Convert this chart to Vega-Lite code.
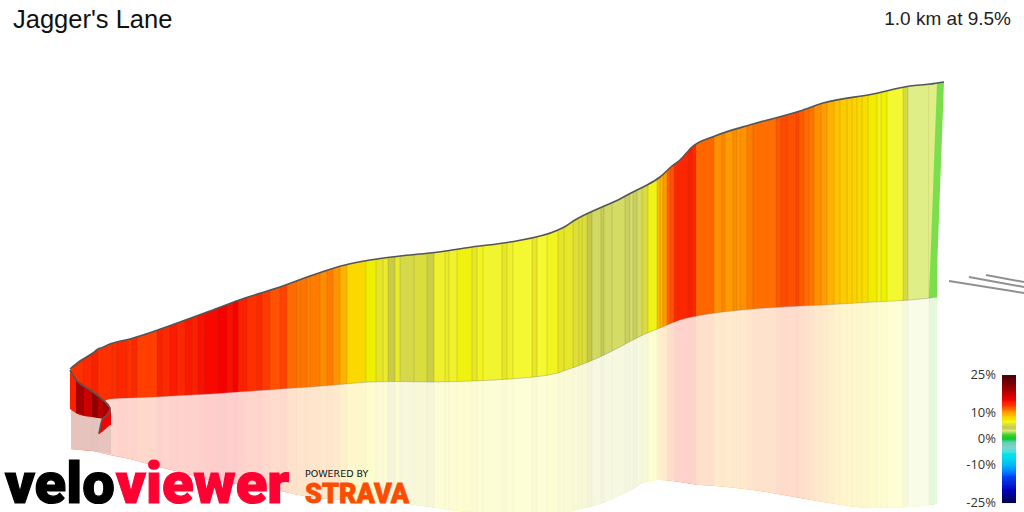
{
  "$schema": "https://vega.github.io/schema/vega-lite/v6.json",
  "description": "Jagger's Lane climb profile",
  "width": 1024,
  "height": 512,
  "padding": 0,
  "autosize": {"type": "none"},
  "background": "white",
  "config": {"view": {"stroke": null}, "font": "Liberation Sans"},
  "datasets": {
    "bands": [
      {"from":71,"to":83.5,"grade":13},{"from":83,"to":92.5,"grade":13.5},{"from":92,"to":98.5,"grade":14},{"from":98,"to":112.5,"grade":13},
      {"from":112,"to":117.5,"grade":13.2},{"from":117,"to":127.5,"grade":13.6},{"from":127,"to":132.5,"grade":13},{"from":132,"to":137.5,"grade":13.5},
      {"from":137,"to":157.5,"grade":12.7},{"from":157,"to":162.5,"grade":14},{"from":162,"to":170.5,"grade":13.5},{"from":170,"to":177.5,"grade":14.2},
      {"from":177,"to":185.5,"grade":13.6},{"from":185,"to":192.5,"grade":14.3},{"from":192,"to":198.5,"grade":14},{"from":198,"to":205.5,"grade":14.6},
      {"from":205,"to":218.5,"grade":14.8},{"from":218,"to":227.5,"grade":15},{"from":227,"to":233.5,"grade":14.6},{"from":233,"to":238.5,"grade":15},
      {"from":238,"to":247.5,"grade":14},{"from":247,"to":257.5,"grade":13},{"from":257,"to":262.5,"grade":13.5},{"from":262,"to":270.5,"grade":12.8},
      {"from":270,"to":280.5,"grade":12.2},{"from":280,"to":287.5,"grade":12.6},{"from":287,"to":297.5,"grade":11.4},{"from":297,"to":300.5,"grade":11},
      {"from":300,"to":307.5,"grade":11.2},{"from":307,"to":310.5,"grade":10.8},{"from":310,"to":320.5,"grade":11},{"from":320,"to":327.5,"grade":10.6},
      {"from":327,"to":333.5,"grade":11},{"from":333,"to":340.5,"grade":10.4},{"from":340,"to":347.5,"grade":9.4},{"from":347,"to":366.5,"grade":8},
      {"from":366,"to":376.5,"grade":7},{"from":376,"to":383.5,"grade":5.8},{"from":383,"to":388.5,"grade":6},{"from":388,"to":395.5,"grade":4.5},
      {"from":395,"to":400.5,"grade":6},{"from":400,"to":414.5,"grade":5},{"from":414,"to":427.5,"grade":5.3},{"from":427,"to":434.5,"grade":4.6},
      {"from":434,"to":445.5,"grade":6.2},{"from":445,"to":449.5,"grade":6},{"from":449,"to":457.5,"grade":6.2},{"from":457,"to":472.5,"grade":6.9},
      {"from":472,"to":477.5,"grade":5.9},{"from":477,"to":483.5,"grade":6.7},{"from":483,"to":502.5,"grade":6.3},{"from":502,"to":507.5,"grade":5.9},
      {"from":507,"to":513.5,"grade":6.2},{"from":513,"to":532.5,"grade":6.4},{"from":532,"to":537.5,"grade":5.9},{"from":537,"to":547.5,"grade":6.4},
      {"from":547,"to":558.5,"grade":6.7},{"from":558,"to":564.5,"grade":5.8},{"from":564,"to":573.5,"grade":5.9},{"from":573,"to":579.5,"grade":5.4},
      {"from":579,"to":582.5,"grade":5.6},{"from":582,"to":587.5,"grade":5.3},{"from":587,"to":592.5,"grade":4.3},{"from":592,"to":601.5,"grade":3.5},
      {"from":601,"to":604.5,"grade":4},{"from":604,"to":612.5,"grade":3.5},{"from":612,"to":625.5,"grade":3.4},{"from":625,"to":630.5,"grade":3.8},
      {"from":630,"to":633.5,"grade":3.3},{"from":633,"to":637.5,"grade":3.8},{"from":637,"to":642.5,"grade":3.4},{"from":642,"to":648.5,"grade":5.2},
      {"from":648,"to":657.5,"grade":6.8},{"from":657,"to":660.5,"grade":9},{"from":660,"to":663.5,"grade":9.5},{"from":663,"to":667.5,"grade":10.3},
      {"from":667,"to":670.5,"grade":11.7},{"from":670,"to":674.5,"grade":12.2},{"from":674,"to":678.5,"grade":13.4},{"from":678,"to":688.5,"grade":13.6},
      {"from":688,"to":692.5,"grade":14},{"from":692,"to":696.5,"grade":13.5},{"from":696,"to":714.5,"grade":11.5},{"from":714,"to":722.5,"grade":10.5},
      {"from":722,"to":725.5,"grade":10.7},{"from":725,"to":733.5,"grade":10.2},{"from":733,"to":737.5,"grade":10.6},{"from":737,"to":740.5,"grade":10.1},
      {"from":740,"to":747.5,"grade":10.5},{"from":747,"to":753.5,"grade":11},{"from":753,"to":776.5,"grade":11.3},{"from":776,"to":781.5,"grade":12},
      {"from":781,"to":787.5,"grade":12.4},{"from":787,"to":796.5,"grade":12.2},{"from":796,"to":799.5,"grade":12.5},{"from":799,"to":804.5,"grade":11.9},
      {"from":804,"to":809.5,"grade":11.4},{"from":809,"to":814.5,"grade":11.2},{"from":814,"to":821.5,"grade":10.5},{"from":821,"to":827.5,"grade":10.1},
      {"from":827,"to":834.5,"grade":9.5},{"from":834,"to":840.5,"grade":8.8},{"from":840,"to":847.5,"grade":8.5},{"from":847,"to":852.5,"grade":8.3},
      {"from":852,"to":857.5,"grade":8.2},{"from":857,"to":862.5,"grade":8},{"from":862,"to":868.5,"grade":7.8},{"from":868,"to":877.5,"grade":7.2},
      {"from":877,"to":881.5,"grade":6.7},{"from":881,"to":887.5,"grade":7},{"from":887,"to":903.5,"grade":6.4},{"from":903,"to":908.5,"grade":5.1},
      {"from":908,"to":929.5,"grade":2.8},{"from":929,"to":937,"grade":2.2}
    ],
    "profile": [
      {"x":70,"top":369,"base":409,"low":449},{"x":80,"top":361,"base":415,"low":450},{"x":93,"top":353,"base":417,"low":451},
      {"x":98,"top":349,"base":418,"low":452},{"x":101,"top":348,"base":405,"low":453},{"x":110,"top":344,"base":399,"low":455},
      {"x":130,"top":339,"base":398,"low":459},{"x":155,"top":331,"base":397,"low":466},{"x":180,"top":322,"base":395.5,"low":472},
      {"x":210,"top":311,"base":394,"low":480},{"x":245,"top":298,"base":391.5,"low":485},{"x":280,"top":287,"base":389,"low":491},
      {"x":310,"top":276,"base":387,"low":497},{"x":345,"top":265,"base":384,"low":500},{"x":370,"top":260,"base":382,"low":501},
      {"x":400,"top":256,"base":381.5,"low":503},{"x":430,"top":253,"base":382,"low":507},{"x":472,"top":247,"base":381,"low":512},
      {"x":510,"top":242,"base":379,"low":512},{"x":558,"top":230,"base":373,"low":512},{"x":566,"top":226,"base":370,"low":512},
      {"x":575,"top":220,"base":367,"low":510},{"x":602,"top":207,"base":356,"low":503},{"x":618,"top":200,"base":348,"low":496},
      {"x":631,"top":193,"base":341,"low":490},{"x":645,"top":186,"base":334,"low":482},{"x":660,"top":177,"base":328,"low":480},
      {"x":672,"top":166,"base":323,"low":481},{"x":680,"top":160,"base":320,"low":482},{"x":692,"top":147,"base":317,"low":484},
      {"x":715,"top":136,"base":313,"low":486},{"x":753,"top":124,"base":309,"low":490},{"x":800,"top":111,"base":306,"low":498},
      {"x":823,"top":103,"base":305,"low":502},{"x":873,"top":94,"base":302,"low":508},{"x":910,"top":86,"base":300,"low":507},
      {"x":930,"top":84,"base":298,"low":505},{"x":937,"top":83,"base":297,"low":504},{"x":944,"top":82,"base":297,"low":504}
    ],
    "wedges": [
      {"part":"a","grade":2.8,"x":929,"top":85,"base":298},{"part":"a","grade":2.8,"x":937,"top":83,"base":83},
      {"part":"b","grade":2.2,"x":937,"top":83,"base":270},{"part":"b","grade":2.2,"x":944,"top":82,"base":82}
    ],
    "foldShade": [
      {"x":71,"top":409,"base":449},{"x":80,"top":415,"base":450},{"x":100,"top":418,"base":452},{"x":111,"top":425,"base":454}
    ],
    "fold": [
      {"part":1,"grade":14,"x":70,"top":370,"base":409},{"part":1,"grade":14,"x":76.5,"top":380,"base":413},
      {"part":2,"grade":19,"x":76,"top":380,"base":413},{"part":2,"grade":19,"x":84.5,"top":386,"base":416},
      {"part":3,"grade":17,"x":84,"top":386,"base":416},{"part":3,"grade":17,"x":92.5,"top":392,"base":417},
      {"part":4,"grade":20,"x":92,"top":392,"base":417},{"part":4,"grade":20,"x":98.5,"top":396,"base":418},
      {"part":5,"grade":18,"x":98,"top":396,"base":418},{"part":5,"grade":18,"x":103.5,"top":400,"base":419},
      {"part":7,"grade":19,"x":103,"top":400,"base":419},{"part":7,"grade":19,"x":110,"top":408,"base":411},
      {"part":8,"grade":15,"x":99,"top":434,"base":434},{"part":8,"grade":15,"x":102,"top":420,"base":432},{"part":8,"grade":15,"x":110,"top":408,"base":425},{"part":8,"grade":15,"x":111,"top":412,"base":425}
    ],
    "edge": [
      {"step":1,"x":70,"y":370},{"step":2,"x":77,"y":381},{"step":3,"x":90,"y":390},{"step":4,"x":103,"y":400},
      {"step":5,"x":110,"y":408},{"step":6,"x":110,"y":412},{"step":7,"x":102,"y":420},{"step":8,"x":99,"y":434}
    ],
    "roads": [
      {"road":1,"x":949,"y":281},{"road":1,"x":1024,"y":293},
      {"road":2,"x":969,"y":277},{"road":2,"x":1024,"y":287},
      {"road":3,"x":986,"y":275},{"road":3,"x":1024,"y":282}
    ],
    "key": [
      {"grade":-25,"upto":-24.2},{"grade":-24.5,"upto":-23.7},{"grade":-24,"upto":-23.2},{"grade":-23.5,"upto":-22.7},{"grade":-23,"upto":-22.2},
      {"grade":-22.5,"upto":-21.7},{"grade":-22,"upto":-21.2},{"grade":-21.5,"upto":-20.7},{"grade":-21,"upto":-20.2},{"grade":-20.5,"upto":-19.7},
      {"grade":-20,"upto":-19.2},{"grade":-19.5,"upto":-18.7},{"grade":-19,"upto":-18.2},{"grade":-18.5,"upto":-17.7},{"grade":-18,"upto":-17.2},
      {"grade":-17.5,"upto":-16.7},{"grade":-17,"upto":-16.2},{"grade":-16.5,"upto":-15.7},{"grade":-16,"upto":-15.2},{"grade":-15.5,"upto":-14.7},
      {"grade":-15,"upto":-14.2},{"grade":-14.5,"upto":-13.7},{"grade":-14,"upto":-13.2},{"grade":-13.5,"upto":-12.7},{"grade":-13,"upto":-12.2},
      {"grade":-12.5,"upto":-11.7},{"grade":-12,"upto":-11.2},{"grade":-11.5,"upto":-10.7},{"grade":-11,"upto":-10.2},{"grade":-10.5,"upto":-9.7},
      {"grade":-10,"upto":-9.2},{"grade":-9.5,"upto":-8.7},{"grade":-9,"upto":-8.2},{"grade":-8.5,"upto":-7.7},{"grade":-8,"upto":-7.2},
      {"grade":-7.5,"upto":-6.7},{"grade":-7,"upto":-6.2},{"grade":-6.5,"upto":-5.7},{"grade":-6,"upto":-5.2},{"grade":-5.5,"upto":-4.7},
      {"grade":-5,"upto":-4.2},{"grade":-4.5,"upto":-3.7},{"grade":-4,"upto":-3.2},{"grade":-3.5,"upto":-2.7},{"grade":-3,"upto":-2.2},
      {"grade":-2.5,"upto":-1.7},{"grade":-2,"upto":-1.2},{"grade":-1.5,"upto":-0.7},{"grade":-1,"upto":-0.2},{"grade":-0.5,"upto":0.3},
      {"grade":0,"upto":0.8},{"grade":0.5,"upto":1.3},{"grade":1,"upto":1.8},{"grade":1.5,"upto":2.3},{"grade":2,"upto":2.8},
      {"grade":2.5,"upto":3.3},{"grade":3,"upto":3.8},{"grade":3.5,"upto":4.3},{"grade":4,"upto":4.8},{"grade":4.5,"upto":5.3},
      {"grade":5,"upto":5.8},{"grade":5.5,"upto":6.3},{"grade":6,"upto":6.8},{"grade":6.5,"upto":7.3},{"grade":7,"upto":7.8},
      {"grade":7.5,"upto":8.3},{"grade":8,"upto":8.8},{"grade":8.5,"upto":9.3},{"grade":9,"upto":9.8},{"grade":9.5,"upto":10.3},
      {"grade":10,"upto":10.8},{"grade":10.5,"upto":11.3},{"grade":11,"upto":11.8},{"grade":11.5,"upto":12.3},{"grade":12,"upto":12.8},
      {"grade":12.5,"upto":13.3},{"grade":13,"upto":13.8},{"grade":13.5,"upto":14.3},{"grade":14,"upto":14.8},{"grade":14.5,"upto":15.3},
      {"grade":15,"upto":15.8},{"grade":15.5,"upto":16.3},{"grade":16,"upto":16.8},{"grade":16.5,"upto":17.3},{"grade":17,"upto":17.8},
      {"grade":17.5,"upto":18.3},{"grade":18,"upto":18.8},{"grade":18.5,"upto":19.3},{"grade":19,"upto":19.8},{"grade":19.5,"upto":20.3},
      {"grade":20,"upto":20.8},{"grade":20.5,"upto":21.3},{"grade":21,"upto":21.8},{"grade":21.5,"upto":22.3},{"grade":22,"upto":22.8},
      {"grade":22.5,"upto":23.3},{"grade":23,"upto":23.8},{"grade":23.5,"upto":24.3},{"grade":24,"upto":24.8},{"grade":24.5,"upto":25}
    ],
    "keyTicks": [
      {"grade":25,"label":"25%"},{"grade":10,"label":"10%"},{"grade":0,"label":"0%"},{"grade":-10,"label":"-10%"},{"grade":-25,"label":"-25%"}
    ]
  },
  "resolve": {"scale": {"y": "independent"}},
  "layer": [
    {
      "encoding": {
        "x": {"field": "x", "type": "quantitative", "axis": null, "scale": {"domain": [0, 1024], "nice": false, "zero": false}}
      },
      "layer": [
        {
          "data": {"name": "bands"},
          "mark": {"type": "rect"},
          "encoding": {
            "x": {"field": "from", "type": "quantitative", "axis": null, "scale": {"domain": [0, 1024], "nice": false, "zero": false}},
            "x2": {"field": "to"},
            "y": {"datum": 60, "type": "quantitative", "axis": null, "scale": {"domain": [512, 0], "nice": false, "zero": false}},
            "y2": {"datum": 512},
            "color": {"field": "grade", "type": "quantitative", "legend": null, "scale": {
              "domain": [-25,-20,-15,-10,-6,-3,-1.5,0,1.2,2.3,2.8,3.4,3.8,4.3,5,5.8,6.4,7,8,9.5,10.5,11.5,13,15,16,20,25],
              "range": ["#000050","#0000c0","#0040f0","#00c0f0","#00e8e8","#80d0c8","#60d0b0","#20c820","#30d030","#80e050","#e0ee88","#d4dc66","#c8d060","#c4c844","#d4d84a","#e4e428","#f4f830","#eef000","#fad800","#ffb000","#ff9000","#ff6600","#ff3000","#f60000","#e00000","#900000","#400000"]
            }}
          }
        },
        {
          "data": {"name": "bands"},
          "transform": [{"filter": "datum.from > 71"}],
          "mark": {"type": "rule", "color": "#604000", "opacity": 0.16, "strokeWidth": 1},
          "encoding": {
            "x": {"field": "from", "type": "quantitative", "axis": null},
            "y": {"datum": 60, "type": "quantitative", "axis": null},
            "y2": {"datum": 512}
          }
        },
        {
          "data": {"name": "profile"},
          "mark": {"type": "area", "color": "white", "orient": "vertical", "interpolate": "monotone"},
          "encoding": {
            "y": {"field": "top", "type": "quantitative", "axis": null},
            "y2": {"datum": 0}
          }
        },
        {
          "data": {"name": "profile"},
          "mark": {"type": "area", "color": "white", "opacity": 0.8, "orient": "vertical", "interpolate": "monotone"},
          "encoding": {
            "y": {"field": "base", "type": "quantitative", "axis": null},
            "y2": {"field": "low"}
          }
        },
        {
          "data": {"name": "profile"},
          "mark": {"type": "area", "color": "white", "orient": "vertical", "interpolate": "monotone"},
          "encoding": {
            "y": {"field": "low", "type": "quantitative", "axis": null},
            "y2": {"datum": 512}
          }
        },
        {
          "data": {"name": "wedges"},
          "mark": {"type": "area", "orient": "vertical"},
          "encoding": {
            "y": {"field": "top", "type": "quantitative", "axis": null},
            "y2": {"field": "base"},
            "detail": {"field": "part"},
            "color": {"field": "grade", "type": "quantitative", "legend": null}
          }
        },
        {
          "data": {"name": "profile"},
          "transform": [{"filter": "datum.x >= 105 && datum.x <= 937"}],
          "mark": {"type": "line", "color": "#777", "opacity": 0.35, "strokeWidth": 1, "interpolate": "monotone"},
          "encoding": {"y": {"field": "base", "type": "quantitative", "axis": null}}
        },
        {
          "data": {"name": "foldShade"},
          "mark": {"type": "area", "color": "#808080", "opacity": 0.2, "orient": "vertical"},
          "encoding": {
            "y": {"field": "top", "type": "quantitative", "axis": null},
            "y2": {"field": "base"}
          }
        },
        {
          "data": {"name": "fold"},
          "mark": {"type": "area", "orient": "vertical"},
          "encoding": {
            "y": {"field": "top", "type": "quantitative", "axis": null},
            "y2": {"field": "base"},
            "detail": {"field": "part"},
            "color": {"field": "grade", "type": "quantitative", "legend": null}
          }
        },
        {
          "data": {"name": "profile"},
          "mark": {"type": "line", "color": "#555", "strokeWidth": 1.6, "interpolate": "monotone"},
          "encoding": {"y": {"field": "top", "type": "quantitative", "axis": null}}
        },
        {
          "data": {"name": "edge"},
          "mark": {"type": "line", "color": "#555", "strokeWidth": 1.6, "interpolate": "monotone"},
          "encoding": {
            "y": {"field": "y", "type": "quantitative", "axis": null},
            "order": {"field": "step"}
          }
        },
        {
          "data": {"name": "roads"},
          "mark": {"type": "line", "color": "#909090", "strokeWidth": 2},
          "encoding": {
            "y": {"field": "y", "type": "quantitative", "axis": null},
            "detail": {"field": "road"}
          }
        }
      ]
    },
    {
      "layer": [
        {
          "data": {"values": [{"label": "Jagger's Lane"}]},
          "mark": {"type": "text", "align": "left", "baseline": "alphabetic", "fontSize": 25.5, "color": "#111"},
          "encoding": {"x": {"datum": 13, "type": "quantitative"}, "y": {"datum": 28, "type": "quantitative", "axis": null, "scale": {"domain": [512, 0], "nice": false, "zero": false}}, "text": {"field": "label", "type": "nominal"}}
        },
        {
          "data": {"values": [{"label": "1.0 km at 9.5%"}]},
          "mark": {"type": "text", "align": "right", "baseline": "bottom", "fontSize": 19, "color": "#222"},
          "encoding": {"x": {"datum": 1011, "type": "quantitative"}, "y": {"datum": 29, "type": "quantitative", "axis": null}, "text": {"field": "label", "type": "nominal"}}
        },
        {
          "data": {"values": [{"label": "velo"}]},
          "mark": {"type": "text", "align": "left", "baseline": "alphabetic", "font": "Roboto", "fontWeight": 900, "fontSize": 58, "color": "#000", "stroke": "#000", "strokeWidth": 1.2},
          "encoding": {"x": {"datum": 5, "type": "quantitative"}, "y": {"datum": 503, "type": "quantitative", "axis": null}, "text": {"field": "label", "type": "nominal"}}
        },
        {
          "data": {"values": [{"label": "viewer"}]},
          "mark": {"type": "text", "align": "left", "baseline": "alphabetic", "font": "Roboto", "fontWeight": 900, "fontSize": 58, "color": "#ff0033", "stroke": "#ff0033", "strokeWidth": 1.2},
          "encoding": {"x": {"datum": 116, "type": "quantitative"}, "y": {"datum": 503, "type": "quantitative", "axis": null}, "text": {"field": "label", "type": "nominal"}}
        },
        {
          "data": {"values": [{"label": "POWERED BY"}]},
          "mark": {"type": "text", "align": "left", "baseline": "alphabetic", "font": "DejaVu Sans", "fontSize": 9.5, "color": "#111"},
          "encoding": {"x": {"datum": 305, "type": "quantitative"}, "y": {"datum": 477, "type": "quantitative", "axis": null}, "text": {"field": "label", "type": "nominal"}}
        },
        {
          "data": {"values": [{"label": "STRAVA"}]},
          "mark": {"type": "text", "align": "left", "baseline": "alphabetic", "font": "Roboto", "fontWeight": 900, "fontSize": 27, "color": "#fc4c02", "stroke": "#fc4c02", "strokeWidth": 0.8},
          "encoding": {"x": {"datum": 305, "type": "quantitative"}, "y": {"datum": 503, "type": "quantitative", "axis": null}, "text": {"field": "label", "type": "nominal"}}
        }
      ]
    },
    {
      "layer": [
        {
          "data": {"name": "key"},
          "mark": {"type": "rect"},
          "encoding": {
            "x": {"datum": 1002, "type": "quantitative"},
            "x2": {"datum": 1016},
            "y": {"field": "grade", "type": "quantitative", "axis": null, "scale": {"domain": [-28.5, 171.5], "nice": false, "zero": false}},
            "y2": {"field": "upto"},
            "color": {"field": "grade", "type": "quantitative", "legend": null}
          }
        },
        {
          "data": {"name": "keyTicks"},
          "mark": {"type": "text", "align": "right", "baseline": "middle", "font": "Open Sans", "fontSize": 13, "color": "#333"},
          "encoding": {
            "x": {"datum": 996, "type": "quantitative"},
            "y": {"field": "grade", "type": "quantitative", "axis": null},
            "text": {"field": "label", "type": "nominal"}
          }
        }
      ]
    }
  ]
}
